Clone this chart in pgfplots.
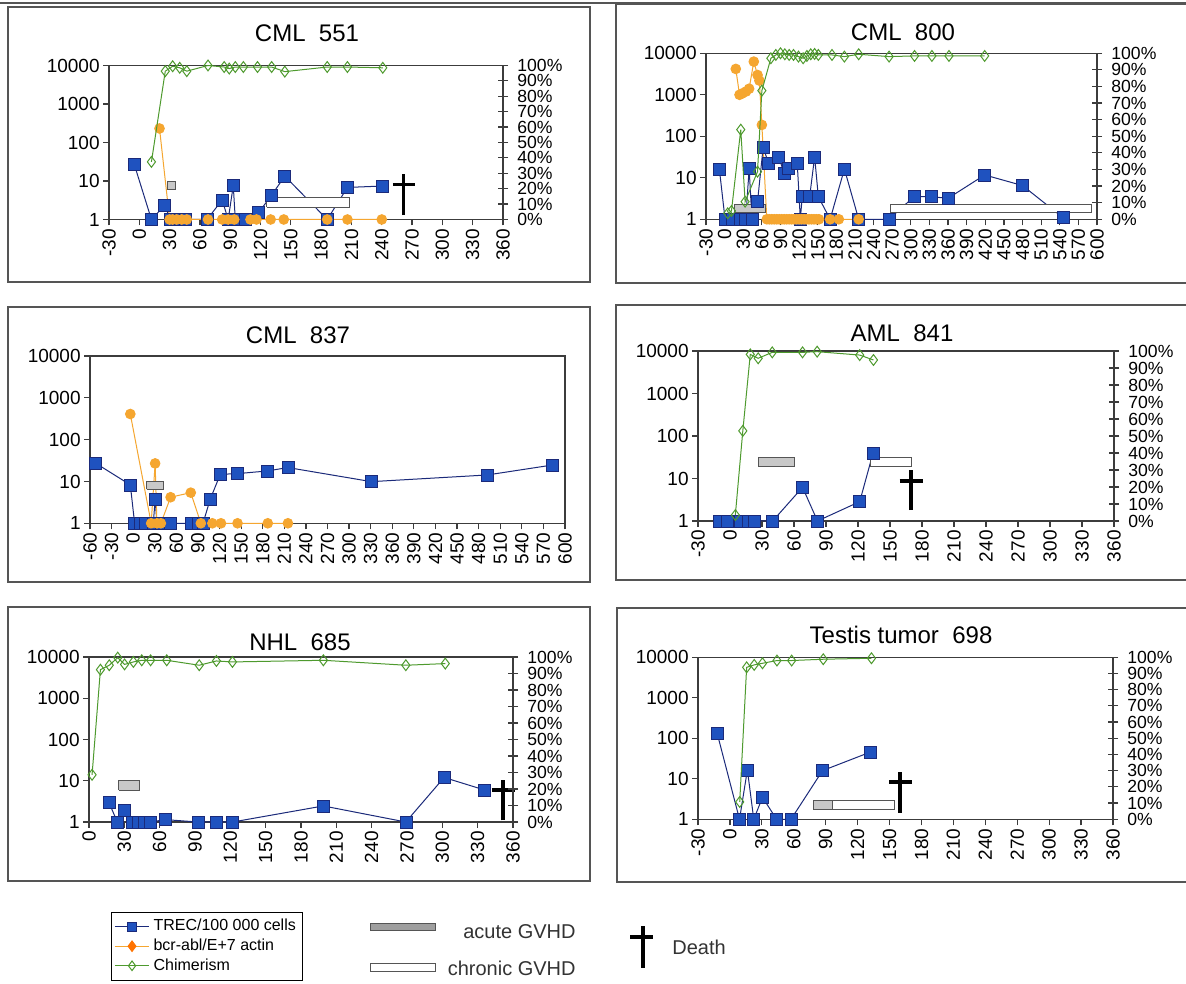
\documentclass[border=0pt]{standalone}
\usepackage{fontspec}
\setmainfont{Liberation Sans}
\usepackage{pgfplots}
\pgfplotsset{compat=1.18}
\definecolor{trecblue}{HTML}{1F52BF}
\definecolor{trecnavy}{HTML}{1B2A7A}
\definecolor{bcrorange}{HTML}{F5A630}
\definecolor{chimgreen}{HTML}{4E9A2E}
\definecolor{framegray}{HTML}{555555}
\definecolor{axgray}{HTML}{3C3C3C}
\definecolor{acutegray}{HTML}{C8C8C8}
\newcommand{\tf}{\fontsize{9.5}{10}\selectfont}
\newcommand{\pf}{\fontsize{8.8}{9}\selectfont}
\pgfplotsset{
  every axis/.append style={
    scale only axis, clip=false, enlargelimits=false,
    axis line style={draw=axgray, line width=0.6pt},
    tick style={draw=axgray, line width=0.6pt},
  },
  trec/.style={color=trecnavy, line width=0.5pt, mark=square*, mark size=3pt, mark options={fill=trecblue, draw=trecnavy, line width=0.3pt}},
  bcr/.style={color=bcrorange, line width=0.5pt, mark=*, mark size=2.4pt, mark options={fill=bcrorange, draw=bcrorange}},
  chim/.style={color=chimgreen, line width=0.5pt, mark=diamond, mark size=2.7pt, mark options={fill=white, draw=chimgreen, line width=0.5pt}},
  acutebar/.style={fill=acutegray, draw=framegray, line width=0.5pt, mark=none},
  chronicbar/.style={fill=white, draw=framegray, line width=0.5pt, mark=none},
  deathline/.style={draw=black, line width=1.9pt, mark=none},
}
\begin{document}
\begin{tikzpicture}
\useasboundingbox (0,0) rectangle (593pt,491.5pt);
\fill[white] (0,0) rectangle (593pt,491.5pt);
% frames
\draw[framegray, line width=0.6pt] (0,490pt) -- (593pt,490pt);
\draw[framegray, line width=0.75pt] (4pt,350.5pt) rectangle (295pt,488pt);
\draw[framegray, line width=0.75pt] (308pt,350pt) rectangle (600pt,489.5pt);
\draw[framegray, line width=0.75pt] (4pt,200.5pt) rectangle (295pt,338pt);
\draw[framegray, line width=0.75pt] (308pt,201.5pt) rectangle (600pt,339pt);
\draw[framegray, line width=0.75pt] (4pt,51pt) rectangle (295pt,188pt);
\draw[framegray, line width=0.75pt] (308.5pt,50.5pt) rectangle (600pt,187.5pt);
% titles
\node[font=\fontsize{12}{14}\selectfont] at (153.5pt,475pt) {CML\ \ 551};
\node[font=\fontsize{12}{14}\selectfont] at (451.5pt,475.5pt) {CML\ \ 800};
\node[font=\fontsize{12}{14}\selectfont] at (149pt,324pt) {CML\ \ 837};
\node[font=\fontsize{12}{14}\selectfont] at (451pt,325pt) {AML\ \ 841};
\node[font=\fontsize{12}{14}\selectfont] at (150pt,170.5pt) {NHL\ \ 685};
\node[font=\fontsize{12}{14}\selectfont] at (450.5pt,174pt) {Testis tumor\ \ 698};

% ---------------- Panel 1: CML 551
\begin{axis}[at={(54.5pt,381.75pt)}, anchor=south west, width=197pt, height=77pt,
  ymode=log, ymin=1, ymax=10000, ytick={1,10,100,1000,10000}, yticklabels={1,10,100,1000,10000},
  yminorticks=false, tick pos=left, tick align=outside, major tick length=3pt,
  xmin=-30, xmax=360, xtick={-30,0,...,360},
  xticklabel style={rotate=90, anchor=east, font=\tf, inner sep=1.5pt},
  yticklabel style={font=\tf, inner sep=1.5pt},
  /pgf/number format/assume math mode=true]
\addplot[trec] coordinates {(-5,27) (12,1) (25,2.3) (31,1) (36,1) (41,1) (46,1) (67,1) (82,3.2) (88,1) (93,7.6) (95,1) (100,1) (105,1) (118,1.5) (131,4.3) (144,13.4) (186,1) (206,6.8) (241,7.4)};
\addplot[bcr] coordinates {(20,231) (30,1) (33,1) (37,1) (42,1) (47,1) (68,1) (82,1) (88,1) (94,1) (110,1) (116,1) (130,1) (143,1) (186,1) (206,1) (240,1)};
\addplot[acutebar] coordinates {(28,6) (36,6) (36,9.5) (28,9.5) (28,6)};
\addplot[chronicbar] coordinates {(126,2.1) (208,2.1) (208,3.65) (126,3.65) (126,2.1)};
\addplot[deathline] coordinates {(261.5,1.3) (261.5,15)};
\addplot[deathline] coordinates {(251,8.1) (273,8.1)};
\end{axis}
\begin{axis}[at={(54.5pt,381.75pt)}, anchor=south west, width=197pt, height=77pt,
  axis x line=none, axis y line*=right, xmin=-30, xmax=360,
  ymin=0, ymax=100, ytick={0,10,...,100},
  yticklabels={0\%,10\%,20\%,30\%,40\%,50\%,60\%,70\%,80\%,90\%,100\%},
  tick align=center, major tick length=5pt,
  yticklabel style={font=\pf, anchor=west, inner sep=0pt, xshift=4.5pt}]
\addplot[chim] coordinates {(12,37.4) (25.7,96.3) (33,99.5) (40,98.5) (47,96.3) (68,100) (84,99) (89,98) (95,99) (103,99) (117,99) (131,99) (144,96) (186,99) (206,99) (241,98.5)};
\end{axis}

% ---------------- Panel 2: CML 800
\begin{axis}[at={(353pt,381.85pt)}, anchor=south west, width=195.5pt, height=83pt,
  ymode=log, ymin=1, ymax=10000, ytick={1,10,100,1000,10000}, yticklabels={1,10,100,1000,10000},
  yminorticks=false, tick pos=left, tick align=outside, major tick length=3pt,
  xmin=-30, xmax=600, xtick={-30,0,...,600},
  xticklabel style={rotate=90, anchor=east, font=\tf, inner sep=1.5pt},
  yticklabel style={font=\tf, inner sep=1.5pt},
  /pgf/number format/assume math mode=true]
\addplot[trec] coordinates {(-8.5,16.3) (0.7,1) (13,1) (25,1) (34,1) (39.5,16.5) (44,1) (53,2.66) (62,53) (71,22.4) (87,32) (96,12.8) (102,17) (117,22.4) (122,1) (125,3.5) (137,3.5) (145,32) (151,3.5) (170,1) (193,16.3) (216,1) (265,1) (305,3.5) (333,3.5) (360,3.2) (419,11.7) (480,6.5) (545,1.1)};
\addplot[bcr] coordinates {(18,4200) (24,1000) (28,1070) (34.5,1200) (39.5,1400) (47,6300) (53,3000) (56,2200) (60,188) (68,1) (72,1) (76,1) (80,1) (84,1) (88,1) (92,1) (96,1) (100,1) (104,1) (108,1) (112,1) (116,1) (120,1) (124,1) (128,1) (132,1) (136,1) (140,1) (144,1) (148,1) (152,1) (170,1) (184,1) (216,1)};
\addplot[acutebar] coordinates {(16,1.47) (66.5,1.47) (66.5,2.25) (16,2.25) (16,1.47)};
\addplot[chronicbar] coordinates {(268,1.42) (591,1.42) (591,2.25) (268,2.25) (268,1.42)};
\end{axis}
\begin{axis}[at={(353pt,381.85pt)}, anchor=south west, width=195.5pt, height=83pt,
  axis x line=none, axis y line*=right, xmin=-30, xmax=600,
  ymin=0, ymax=100, ytick={0,10,...,100},
  yticklabels={0\%,10\%,20\%,30\%,40\%,50\%,60\%,70\%,80\%,90\%,100\%},
  tick align=center, major tick length=5pt,
  yticklabel style={font=\pf, anchor=west, inner sep=0pt, xshift=4.5pt}]
\addplot[chim] coordinates {(5,3.6) (11,5) (26,54) (33,10.6) (53,28.7) (60,77.5) (74.5,97) (82.5,99) (90,100) (97,99.4) (104,99) (111,99) (119,98) (126.5,97) (132.6,98.4) (138.8,99.4) (145,99.6) (151,99) (173,99) (193,98) (216,99.4) (265,98) (306,98.4) (334,98.4) (361.5,98.4) (419,98.4)};
\end{axis}

% ---------------- Panel 3: CML 837
\begin{axis}[at={(45pt,229.85pt)}, anchor=south west, width=237.5pt, height=83.65pt,
  ymode=log, ymin=1, ymax=10000, ytick={1,10,100,1000,10000}, yticklabels={1,10,100,1000,10000},
  yminorticks=false, tick pos=left, tick align=outside, major tick length=3pt,
  xmin=-60, xmax=600, xtick={-60,-30,...,600},
  xticklabel style={rotate=90, anchor=east, font=\tf, inner sep=1.5pt},
  yticklabel style={font=\tf, inner sep=1.5pt},
  /pgf/number format/assume math mode=true]
\addplot[trec] coordinates {(-52,27.2) (-4,8.3) (2,1) (10,1) (17,1) (28,1) (30.5,3.75) (33,1) (38.5,1) (52,1) (81,1) (90,1) (97,1) (107,3.75) (121,14.8) (145,15.4) (186,17.8) (215,21.5) (331,9.9) (492,14.3) (583,24.8)};
\addplot[bcr] coordinates {(-4,410) (25,1) (30.5,27) (33,1) (38.5,1) (52,4.2) (80,5.4) (94,1) (110,1) (122,1) (145,1) (187,1) (215,1)};
\addplot[acutebar] coordinates {(18.8,6.5) (42.7,6.5) (42.7,9.9) (18.8,9.9) (18.8,6.5)};
\end{axis}

% ---------------- Panel 4: AML 841
\begin{axis}[at={(349pt,231pt)}, anchor=south west, width=208pt, height=85pt,
  ymode=log, ymin=1, ymax=10000, ytick={1,10,100,1000,10000}, yticklabels={1,10,100,1000,10000},
  yminorticks=false, tick pos=left, tick align=outside, major tick length=3pt,
  xmin=-30, xmax=360, xtick={-30,0,...,360},
  xticklabel style={rotate=90, anchor=east, font=\tf, inner sep=1.5pt},
  yticklabel style={font=\tf, inner sep=1.5pt},
  /pgf/number format/assume math mode=true]
\addplot[trec] coordinates {(-10,1) (-3,1) (10,1) (17,1) (23,1) (40,1) (68,6.2) (82,1) (121.6,2.85) (134,39)};
\addplot[acutebar] coordinates {(26.4,19) (60.3,19) (60.3,31) (26.4,31) (26.4,19)};
\addplot[chronicbar] coordinates {(131.6,19) (170.5,19) (170.5,31) (131.6,31) (131.6,19)};
\addplot[deathline] coordinates {(170,1.8) (170,15.8)};
\addplot[deathline] coordinates {(159,8.9) (180.5,8.9)};
\end{axis}
\begin{axis}[at={(349pt,231pt)}, anchor=south west, width=208pt, height=85pt,
  axis x line=none, axis y line*=right, xmin=-30, xmax=360,
  ymin=0, ymax=100, ytick={0,10,...,100},
  yticklabels={0\%,10\%,20\%,30\%,40\%,50\%,60\%,70\%,80\%,90\%,100\%},
  tick align=center, major tick length=5pt,
  yticklabel style={font=\pf, anchor=west, inner sep=0pt, xshift=4.5pt}]
\addplot[chim] coordinates {(5,3.5) (12,53) (19,98) (26.4,95.7) (39.6,99.2) (68,99.2) (81.7,99.6) (121.6,97.6) (134.5,94.7)};
\end{axis}

% ---------------- Panel 5: NHL 685
\begin{axis}[at={(44.5pt,80.5pt)}, anchor=south west, width=212pt, height=82.5pt,
  ymode=log, ymin=1, ymax=10000, ytick={1,10,100,1000,10000}, yticklabels={1,10,100,1000,10000},
  yminorticks=false, tick pos=left, tick align=outside, major tick length=3pt,
  xmin=0, xmax=360, xtick={0,30,...,360},
  xticklabel style={rotate=90, anchor=east, font=\tf, inner sep=1.5pt},
  yticklabel style={font=\tf, inner sep=1.5pt},
  /pgf/number format/assume math mode=true,
  legend style={at={(0.052,-0.545)}, anchor=north west, draw=black, line width=0.4pt,
    font=\fontsize{8}{9}\selectfont, inner sep=1.5pt, row sep=-1.5pt},
  legend cell align=left]
\addlegendimage{trec, mark size=2.2pt}
\addlegendentry{TREC/100 000 cells}
\addlegendimage{color=bcrorange, line width=0.5pt, mark=diamond*, mark size=2.6pt, mark options={fill=orange!90!red, draw=orange!90!red}}
\addlegendentry{bcr-abl/E+7 actin}
\addlegendimage{chim, mark size=2.4pt}
\addlegendentry{Chimerism}
\addplot[trec, forget plot] coordinates {(17,2.96) (24,1) (30,1.93) (37,1) (42,1) (47,1) (52,1) (65,1.14) (92.6,1) (108,1) (122,1) (199,2.45) (269,1) (301.5,12) (335.6,6)};
\addplot[acutebar, forget plot] coordinates {(25.3,5.9) (43.2,5.9) (43.2,10) (25.3,10) (25.3,5.9)};
\addplot[deathline, forget plot] coordinates {(351.8,1.1) (351.8,10.4)};
\addplot[deathline, forget plot] coordinates {(342,5.9) (361.6,5.9)};
\end{axis}
\begin{axis}[at={(44.5pt,80.5pt)}, anchor=south west, width=212pt, height=82.5pt,
  axis x line=none, axis y line*=right, xmin=0, xmax=360,
  ymin=0, ymax=100, ytick={0,10,...,100},
  yticklabels={0\%,10\%,20\%,30\%,40\%,50\%,60\%,70\%,80\%,90\%,100\%},
  tick align=center, major tick length=5pt,
  yticklabel style={font=\pf, anchor=west, inner sep=0pt, xshift=4.5pt}]
\addplot[chim] coordinates {(2.6,28.6) (9.7,92.3) (17.2,95) (24.4,99.6) (30.2,95.5) (37.7,97) (44.8,98) (52.3,98) (66,98) (93.6,95) (108.2,97.6) (121.8,97) (199,98) (269,95) (302.5,96)};
\end{axis}

% ---------------- Panel 6: Testis tumor 698
\begin{axis}[at={(349pt,81.85pt)}, anchor=south west, width=207.5pt, height=81pt,
  ymode=log, ymin=1, ymax=10000, ytick={1,10,100,1000,10000}, yticklabels={1,10,100,1000,10000},
  yminorticks=false, tick pos=left, tick align=outside, major tick length=3pt,
  xmin=-30, xmax=360, xtick={-30,0,...,360},
  xticklabel style={rotate=90, anchor=east, font=\tf, inner sep=1.5pt},
  yticklabel style={font=\tf, inner sep=1.5pt},
  /pgf/number format/assume math mode=true]
\addplot[trec] coordinates {(-12,133) (9,1) (16.4,16.6) (22.4,1) (30.6,3.5) (43.8,1) (57.4,1) (87,15.9) (132.3,46)};
\addplot[acutebar] coordinates {(78.8,1.7) (96.6,1.7) (96.6,2.9) (78.8,2.9) (78.8,1.7)};
\addplot[chronicbar] coordinates {(96.6,1.7) (154.8,1.7) (154.8,2.9) (96.6,2.9) (96.6,1.7)};
\addplot[deathline] coordinates {(160,1.46) (160,15)};
\addplot[deathline] coordinates {(149.5,8.5) (171,8.5)};
\end{axis}
\begin{axis}[at={(349pt,81.85pt)}, anchor=south west, width=207.5pt, height=81pt,
  axis x line=none, axis y line*=right, xmin=-30, xmax=360,
  ymin=0, ymax=100, ytick={0,10,...,100},
  yticklabels={0\%,10\%,20\%,30\%,40\%,50\%,60\%,70\%,80\%,90\%,100\%},
  tick align=center, major tick length=5pt,
  yticklabel style={font=\pf, anchor=west, inner sep=0pt, xshift=4.5pt}]
\addplot[chim] coordinates {(9.2,10.7) (15.7,93.8) (22.8,95.3) (30.6,96.3) (44.2,98) (58,98) (87.7,98.8) (133,99.4)};
\end{axis}

% ---------------- other legend items
\draw[framegray, line width=0.5pt, fill=gray!75] (185pt,26pt) rectangle (217.5pt,29.5pt);
\draw[framegray, line width=0.5pt, fill=white] (185pt,5.5pt) rectangle (217.5pt,9.5pt);
\node[anchor=east, inner sep=0pt, font=\fontsize{10}{12}\selectfont, text=black!80] at (288pt,25.5pt) {acute GVHD};
\node[anchor=east, inner sep=0pt, font=\fontsize{10}{12}\selectfont, text=black!80] at (288pt,7.5pt) {chronic GVHD};
\draw[black, line width=1.9pt] (321.3pt,7.5pt) -- (321.3pt,28.5pt);
\draw[black, line width=1.9pt] (315pt,23pt) -- (326.5pt,23pt);
\node[anchor=west, inner sep=0pt, font=\fontsize{10}{12}\selectfont, text=black!80] at (336pt,18pt) {Death};
\end{tikzpicture}
\end{document}
